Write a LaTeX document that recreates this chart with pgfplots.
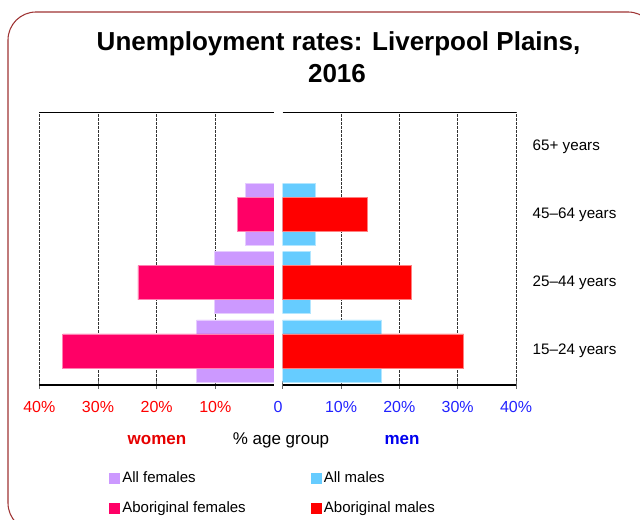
\documentclass[border=0pt]{standalone}
\usepackage{pgfplots}
\pgfplotsset{compat=1.18}
\usepackage{fontspec}
\setmainfont{Liberation Sans}
\definecolor{allf}{HTML}{CC99FF}
\definecolor{abf}{HTML}{FF0066}
\definecolor{allm}{HTML}{66CCFF}
\definecolor{abm}{HTML}{FF0000}
\definecolor{border}{HTML}{9E3333}
\definecolor{tblue}{HTML}{2222FF}
\newcommand\tickfont{\fontsize{12}{14}\selectfont}
\newcommand\catfont{\fontsize{11.4}{13.5}\selectfont}
\newcommand\legfont{\fontsize{11.25}{13.5}\selectfont}
\newcommand\labfont{\fontsize{12.75}{15}\selectfont}
\newcommand\titlefont{\fontsize{19.5}{23}\selectfont}
\pgfplotsset{
  pyr/.style={scale only axis, height=204.5pt,
    ymin=-0.5, ymax=3.5, xmin=0, xmax=40,
    xtick={10,20,30,40}, xticklabels={10\%,20\%,30\%,40\%},
    xmajorgrids, major grid style={black!80, dash pattern=on 2pt off 1pt, line width=0.5pt},
    separate axis lines, y axis line style={draw=none}, x axis line style={line width=0.9pt},
    xtick pos=left, tick align=center, major tick length=6pt,
    xtick style={black!60, line width=0.6pt},
    ytick style={draw=none},
    xticklabel style={font=\tickfont, yshift=-5.5pt},
  }
}
\begin{document}
\begin{tikzpicture}[x=0.75pt,y=-0.75pt]
\draw[border, line width=0.8pt, rounded corners=21pt] (8,12) rectangle (656,531);
\node[anchor=base, font=\titlefont\bfseries] at (338.5,51) {Unemployment rates: Liverpool Plains,};
\node[anchor=base, font=\titlefont\bfseries] at (337,83) {2016};
\coordinate (LC) at (156.65,248.65);
\coordinate (RC) at (399.35,248.65);
\begin{axis}[pyr, at={(LC)}, anchor=center, width=176pt, x dir=reverse,
  ytick=\empty, xticklabel style={text=red}]
\addplot[xbar, bar width=0.909, bar shift=0pt, fill=allf, draw=allf!50!white, line width=0.5pt]
  coordinates {(13.2,0) (10.2,1) (4.8,2)};
\addplot[xbar, bar width=0.5, bar shift=0pt, fill=abf, draw=abf!50!white, line width=0.5pt]
  coordinates {(36.0,0) (23.2,1) (6.25,2)};
\end{axis}
\begin{axis}[pyr, at={(RC)}, anchor=center, width=175pt,
  xticklabel style={text=tblue},
  extra x ticks={0}, extra x tick labels={0},
  extra x tick style={grid=none, xticklabel style={xshift=-3.5pt}},
  ytick={0,1,2,3}, yticklabels={15–24 years,25–44 years,45–64 years,65+ years},
  yticklabel pos=right, yticklabel style={font=\catfont, anchor=west, xshift=6pt},
  legend columns=2, legend cell align=left,
  legend style={at={(-0.745,-0.307)}, anchor=north west, draw=none, fill=none,
    font=\legfont, inner sep=0pt, row sep=9pt,
    /tikz/every even column/.append style={column sep=46.75pt}}]
\addplot[xbar, bar width=0.909, bar shift=0pt, fill=allm, draw=allm!50!white, line width=0.5pt, forget plot]
  coordinates {(16.9,0) (4.8,1) (5.6,2)};
\addplot[xbar, bar width=0.5, bar shift=0pt, fill=abm, draw=abm!50!white, line width=0.5pt, forget plot]
  coordinates {(31.0,0) (22.0,1) (14.5,2)};
\addlegendimage{legend image code/.code={\fill[allf] (0pt,-3.75pt) rectangle (7.5pt,3.75pt);}}
\addlegendentry{All females}
\addlegendimage{legend image code/.code={\fill[allm] (0pt,-3.75pt) rectangle (7.5pt,3.75pt);}}
\addlegendentry{All males}
\addlegendimage{legend image code/.code={\fill[abf] (0pt,-3.75pt) rectangle (7.5pt,3.75pt);}}
\addlegendentry{Aboriginal females}
\addlegendimage{legend image code/.code={\fill[abm] (0pt,-3.75pt) rectangle (7.5pt,3.75pt);}}
\addlegendentry{Aboriginal males}
\end{axis}
\node[anchor=base, font=\labfont\bfseries, text={rgb,255:red,230;green,0;blue,0}] at (157,445) {women};
\node[anchor=base, font=\labfont] at (281,445) {\% age group};
\node[anchor=base, font=\labfont\bfseries, text={rgb,255:red,0;green,0;blue,238}] at (402,445) {men};
\pgfresetboundingbox
\useasboundingbox (0,0) rectangle (640,520);
\end{tikzpicture}
\end{document}
